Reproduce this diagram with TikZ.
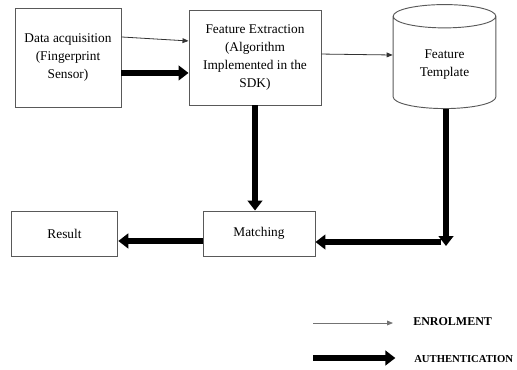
\documentclass[tikz,border=0pt]{standalone}
\usepackage{fontspec}
\setmainfont{Liberation Serif}
\usetikzlibrary{arrows.meta,shapes.geometric}
\tikzset{box/.style={draw=black!65, line width=0.7pt, align=center, font=\fontsize{10}{13.5}\selectfont},
  enrol/.style={draw=black!80, line width=0.6pt, -{Triangle[length=4.5pt,width=3.6pt]}},
  auth/.style={line width=5pt, -{Triangle[length=7.5pt,width=11pt]}},
  legend/.style={font=\bfseries\fontsize{9}{10}\selectfont, anchor=west, inner sep=0pt}}

\begin{document}
\begin{tikzpicture}[x=0.75pt, y=-0.75pt]
\useasboundingbox (0,0) rectangle (517,369);
\node[box, minimum width=79.5pt, minimum height=74.25pt] (data) at (68,57.5) {Data acquisition\\(Fingerprint\\Sensor)};
\node[box, minimum width=99pt, minimum height=71.25pt] (feat) at (255,57.5) {Feature Extraction\\(Algorithm\\Implemented in the\\SDK)};
\node[box, cylinder, shape border rotate=90, aspect=0.4, minimum width=77pt, minimum height=78pt] (tmpl) at (444.5,65) {Feature\\Template};
\node[box, minimum width=84pt, minimum height=33.75pt] (match) at (259,233.5) {Matching};
\node[box, minimum width=80pt, minimum height=33.75pt] (res) at (64.5,233.5) {Result};
\coordinate (drop) at (446,246);
\coordinate (bend) at (441,242);

\draw[enrol] ([yshift=15.4pt]data.east) -- ([yshift=12.4pt]feat.west);
\draw[auth] ([yshift=-11.6pt]data.east) -- ([yshift=-11.6pt]feat.west);
\draw[enrol] ([yshift=2.6pt]feat.east) -- ([yshift=7.5pt]tmpl.west);
\draw[auth] (feat.south) -- (feat.south |- match.north);
\draw[auth] (tmpl.south -| drop) -- (drop);
\draw[auth] (bend) -- (match.east |- bend);
\draw[auth] ([yshift=-5.6pt]match.west) -- ([yshift=-5.6pt]res.east);

% legend
\coordinate (enrA) at (313,323);
\coordinate (authA) at (313,358);
\node[legend] (enrtxt) at (413,322) {ENROLMENT};
\node[legend, font=\bfseries\fontsize{8}{9}\selectfont] (authtxt) at (414,359) {AUTHENTICATION};
\draw[enrol, draw=black!55] (enrA) -- ([xshift=-15pt]enrA -| enrtxt.west);
\draw[auth] (authA) -- ([xshift=-14pt]authA -| authtxt.west);
\end{tikzpicture}
\end{document}
